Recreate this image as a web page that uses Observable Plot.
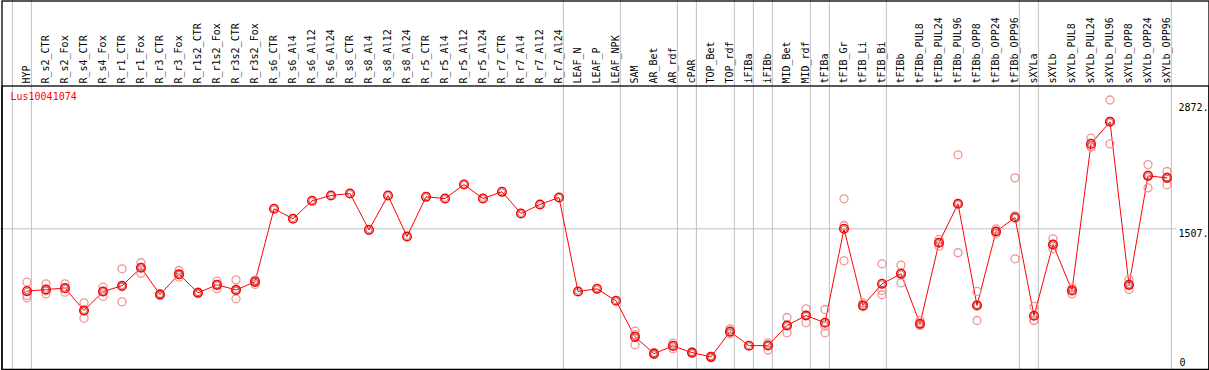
<!DOCTYPE html>
<html><head><meta charset="utf-8">
<script src="https://cdn.jsdelivr.net/npm/d3@7"></script>
<script src="https://cdn.jsdelivr.net/npm/@observablehq/plot@0.6"></script>
<style>html,body{margin:0;padding:0;background:#fff} svg{display:block}</style>
</head><body><div id="chart"></div>
<script>
const geneName = "Lus10041074";
const samples = ["HYP","R_s2_CTR","R_s2_Fox","R_s4_CTR","R_s4_Fox","R_r1_CTR","R_r1_Fox","R_r3_CTR","R_r3_Fox","R_r1s2_CTR","R_r1s2_Fox","R_r3s2_CTR","R_r3s2_Fox","R_s6_CTR","R_s6_Al4","R_s6_Al12","R_s6_Al24","R_s8_CTR","R_s8_Al4","R_s8_Al12","R_s8_Al24","R_r5_CTR","R_r5_Al4","R_r5_Al12","R_r5_Al24","R_r7_CTR","R_r7_Al4","R_r7_Al12","R_r7_Al24","LEAF_N","LEAF_P","LEAF_NPK","SAM","AR_Bet","AR_rdf","cPAR","TOP_Bet","TOP_rdf","iFIBa","iFIBb","MID_Bet","MID_rdf","tFIBa","tFIB_Gr","tFIB_Li","tFIB_Bi","tFIBb","tFIBb_PUL8","tFIBb_PUL24","tFIBb_PUL96","tFIBb_OPP8","tFIBb_OPP24","tFIBb_OPP96","sXYLa","sXYLb","sXYLb_PUL8","sXYLb_PUL24","sXYLb_PUL96","sXYLb_OPP8","sXYLb_OPP24","sXYLb_OPP96"];
const means = [846,864,878,641,842,903,1094,811,1026,829,913,860,945,1719,1613,1804,1860,1881,1496,1860,1425,1846,1828,1976,1828,1899,1669,1765,1839,843,871,744,362,184,266,195,150,417,268,270,482,588,511,1507,694,924,1030,500,1359,1772,694,1478,1627,585,1341,853,2407,2641,913,2068,2047];
const reps = [[941,800,776],[924,850,818],[924,875,835],[723,640,560],[888,842,790],[1083,893,733],[1147,1099,1036],[820,811,800],[1065,1020,994],[835,832,820],[952,916,871],[966,850,765],[966,950,917],
[],[],[],[],[],[],[],[],[],[],[],[],[],[],[],[],[],[],[],
[422,385,278],[195,182,175],[295,268,235],[200,195,190],[155,150,140],[447,415,394],[],[299,270,220],[567,482,405],[659,590,511],[652,476,405],[1825,1542,1168],[723,690,680],[1136,853,808],[1122,1037,933],[535,500,482],[1394,1360,1323],[2291,1772,1253],[843,704,535],[1507,1478,1454],[2047,1645,1189],[684,536,535],[1401,1341,1295],[882,853,818],[2467,2382,2372],[2872,2644,2407],[966,913,864],[2188,2075,1941],[2114,2054,1973]];
const groupEnds = [-1,0,28,31,34,35,37,38,39,41,42,45,52,53,60];
const yMax = 2872, yMid = 1507, yMin = 0;

const meanData = samples.map((s,i)=>({i, s, v: means[i]}));
const repData = reps.flatMap((r,i)=>r.map(v=>({i, v})));

const plot = Plot.plot({
  width: 1209, height: 370,
  marginTop: 0, marginRight: 0, marginBottom: 0, marginLeft: 0,
  x: {type: "linear", domain: [0, samples.length - 1], range: [26.5, 1166.5], axis: null},
  y: {type: "linear", domain: [yMin, yMax], range: [370.5, 99.5], axis: null},
  style: {fontFamily: "'DejaVu Sans Mono', monospace", fontSize: "10px", background: "#fff", color: "#000"},
  marks: [
    Plot.ruleX(groupEnds, {x: d => d + 0.23, stroke: "#c0c0c0", strokeWidth: 1, strokeOpacity: 1}),
    Plot.ruleY([yMid], {stroke: "#c0c0c0", strokeWidth: 1, strokeOpacity: 1, insetRight: 33}),
    Plot.frame({stroke: "#000", strokeWidth: 1.3, insetLeft: 1.5, insetTop: 0.5, insetRight: 0.5, insetBottom: 1}),
    Plot.frame({stroke: "#000", strokeWidth: 1.3, insetLeft: 1.5, insetTop: 85.5, insetRight: 0.5, insetBottom: 1}),
    Plot.line(meanData, {x: "i", y: "v", stroke: "#ff0000", strokeWidth: 1}),
    Plot.dot(repData, {x: "i", y: "v", r: 4, stroke: "#f09494", strokeWidth: 1.3, fill: "none"}),
    Plot.dot(meanData, {x: "i", y: "v", r: 4.3, stroke: "#ff0000", strokeWidth: 1.5, fill: "none"}),
    Plot.dot(meanData, {x: "i", y: "v", r: 2.9, stroke: "#700000", strokeWidth: 0.45, fill: "none"}),
    Plot.text(meanData, {x: "i", text: "s", frameAnchor: "top", dy: 83, dx: 0, rotate: -90, textAnchor: "start", lineAnchor: "middle", fill: "#000"}),
    Plot.text([geneName], {text: d => d, frameAnchor: "top-left", dx: 10, dy: 92.5, textAnchor: "start", lineAnchor: "top", fill: "#ff0000"}),
    Plot.text([yMax], {y: d => d, text: d => d + ".", frameAnchor: "right", textAnchor: "end", lineAnchor: "top", dy: 3.5, dx: -1, fill: "#000"}),
    Plot.text([yMid], {y: d => d, text: d => d + ".", frameAnchor: "right", textAnchor: "end", lineAnchor: "top", dy: 1, dx: -1, fill: "#000"}),
    Plot.text([yMin], {y: d => d, text: d => String(d), frameAnchor: "left", x: null, textAnchor: "start", lineAnchor: "bottom", dy: -5, dx: 1179, fill: "#000"})
  ]
});
document.getElementById("chart").appendChild(plot);
</script>
</body></html>
